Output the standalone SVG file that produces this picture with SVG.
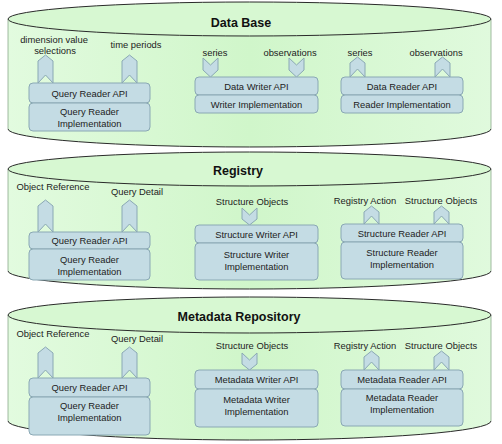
<svg xmlns="http://www.w3.org/2000/svg" width="502" height="444" viewBox="0 0 502 444">
<defs>
<linearGradient id="cylFill" x1="0" y1="0" x2="1" y2="0">
<stop offset="0" stop-color="#e2fbdf"/>
<stop offset="0.5" stop-color="#d0f6ca"/>
<stop offset="1" stop-color="#e0fadd"/>
</linearGradient>
<style>
.body{fill:url(#cylFill);stroke:none}
.side{fill:none;stroke:#8aa88a;stroke-width:0.8}
.edge{fill:none;stroke:#2a2a2a;stroke-width:1}
.top{fill:#d7f8d2;stroke:#2a2a2a;stroke-width:1}
.box{fill:#c4dce4;stroke:#8aa8b4;stroke-width:1}
.arr{fill:#c4dce4;stroke:#8aa8b4;stroke-width:1;stroke-linejoin:miter}
.title{font-family:"Liberation Sans",Arial,sans-serif;font-size:12.5px;font-weight:bold;fill:#111;text-anchor:middle}
.t{font-family:"Liberation Sans",Arial,sans-serif;font-size:9.4px;fill:#222;text-anchor:middle}
</style>
</defs>

<g id="database">
<path class="body" d="M8,19 V129 A241.5,18 0 0 0 491,129 V19 Z"/>
<path class="side" d="M8,19 V129 M491,19 V129"/>
<path class="edge" d="M8,129 A241.5,18 0 0 0 491,129"/>
<ellipse class="top" cx="249.5" cy="19" rx="241.5" ry="17"/>
<text class="title" x="241" y="27">Data Base</text>
</g>

<g id="registry">
<path class="body" d="M8,169 V271 A241.5,18 0 0 0 491,271 V169 Z"/>
<path class="side" d="M8,169 V271 M491,169 V271"/>
<path class="edge" d="M8,271 A241.5,18 0 0 0 491,271"/>
<ellipse class="top" cx="249.5" cy="169" rx="241.5" ry="17"/>
<text class="title" x="238" y="175">Registry</text>
</g>

<g id="metadata-repository">
<path class="body" d="M8,315 V421 A241.5,19 0 0 0 491,421 V315 Z"/>
<path class="side" d="M8,315 V421 M491,315 V421"/>
<path class="edge" d="M8,421 A241.5,19 0 0 0 491,421"/>
<ellipse class="top" cx="249.5" cy="315" rx="241.5" ry="18"/>
<text class="title" x="239" y="321">Metadata Repository</text>
</g>

<g id="connectors">
<path class="arr" d="M45.5,55 L53,61 V83 L45.5,75 L38,83 V61 Z"/>
<path class="arr" d="M129.5,55 L137,61 V83 L129.5,75 L122,83 V61 Z"/>
<path class="arr" d="M203,58 L210.5,65 L218,58 V70 L210.5,77 L203,70 Z"/>
<path class="arr" d="M289,58 L296.5,65 L304,58 V70 L296.5,77 L289,70 Z"/>
<path class="arr" d="M357.5,57 L365,63 V77 L357.5,69 L350,77 V63 Z"/>
<path class="arr" d="M442.5,57 L450,63 V77 L442.5,69 L435,77 V63 Z"/>
<path class="arr" d="M45.5,200 L53,206 V232 L45.5,224 L38,232 V206 Z"/>
<path class="arr" d="M129.5,200 L137,206 V232 L129.5,224 L122,232 V206 Z"/>
<path class="arr" d="M242,208 L249.5,215 L257,208 V219 L249.5,225 L242,219 Z"/>
<path class="arr" d="M371.5,206 L379,212 V224 L371.5,216 L364,224 V212 Z"/>
<path class="arr" d="M441.5,206 L449,212 V224 L441.5,216 L434,224 V212 Z"/>
<path class="arr" d="M45.5,347 L53,353 V378 L45.5,370 L38,378 V353 Z"/>
<path class="arr" d="M129.5,347 L137,353 V378 L129.5,370 L122,378 V353 Z"/>
<path class="arr" d="M242,353 L249.5,360 L257,353 V364 L249.5,370 L242,364 Z"/>
<path class="arr" d="M371.5,351 L379,357 V370 L371.5,362 L364,370 V357 Z"/>
<path class="arr" d="M441.5,351 L449,357 V370 L441.5,362 L434,370 V357 Z"/>
</g>

<g id="labels">
<text class="t" x="54" y="43">dimension value</text>
<text class="t" x="55" y="54">selections</text>
<text class="t" x="136" y="48">time periods</text>
<text class="t" x="215" y="56">series</text>
<text class="t" x="290" y="56">observations</text>
<text class="t" x="360" y="56">series</text>
<text class="t" x="436" y="56">observations</text>

<text class="t" x="53" y="190">Object Reference</text>
<text class="t" x="137" y="195">Query Detail</text>
<text class="t" x="252" y="205">Structure Objects</text>
<text class="t" x="365" y="204">Registry Action</text>
<text class="t" x="441" y="204">Structure Objects</text>

<text class="t" x="53" y="337">Object Reference</text>
<text class="t" x="137" y="342">Query Detail</text>
<text class="t" x="252" y="349">Structure Objects</text>
<text class="t" x="365" y="349">Registry Action</text>
<text class="t" x="441" y="349">Structure Objects</text>
</g>

<g id="db-query-reader">
<rect class="box" x="29" y="83" width="121" height="20" rx="4"/>
<rect class="box" x="29" y="103" width="121" height="28" rx="4"/>
<text class="t" x="89.5" y="96.5">Query Reader API</text>
<text class="t" x="89.5" y="115">Query Reader</text>
<text class="t" x="89.5" y="127">Implementation</text>
</g>
<g id="db-data-writer">
<rect class="box" x="195" y="77" width="123" height="18" rx="4"/>
<rect class="box" x="195" y="95" width="123" height="18" rx="4"/>
<text class="t" x="256.5" y="89.5">Data Writer API</text>
<text class="t" x="256.5" y="107.5">Writer Implementation</text>
</g>
<g id="db-data-reader">
<rect class="box" x="341" y="77" width="122" height="18" rx="4"/>
<rect class="box" x="341" y="95" width="122" height="18" rx="4"/>
<text class="t" x="402" y="89.5">Data Reader API</text>
<text class="t" x="402" y="107.5">Reader Implementation</text>
</g>

<g id="reg-query-reader">
<rect class="box" x="29" y="232" width="121" height="17" rx="4"/>
<rect class="box" x="29" y="249" width="121" height="31" rx="4"/>
<text class="t" x="89.5" y="244">Query Reader API</text>
<text class="t" x="89.5" y="263">Query Reader</text>
<text class="t" x="89.5" y="275">Implementation</text>
</g>
<g id="reg-structure-writer">
<rect class="box" x="195" y="225" width="123" height="18" rx="4"/>
<rect class="box" x="195" y="243" width="123" height="37" rx="4"/>
<text class="t" x="256.5" y="238">Structure Writer API</text>
<text class="t" x="256.5" y="258">Structure Writer</text>
<text class="t" x="256.5" y="270">Implementation</text>
</g>
<g id="reg-structure-reader">
<rect class="box" x="341" y="224" width="122" height="18" rx="4"/>
<rect class="box" x="341" y="242" width="122" height="37" rx="4"/>
<text class="t" x="402" y="237">Structure Reader API</text>
<text class="t" x="402" y="256">Structure Reader</text>
<text class="t" x="402" y="268">Implementation</text>
</g>

<g id="md-query-reader">
<rect class="box" x="29" y="378" width="121" height="19" rx="4"/>
<rect class="box" x="29" y="397" width="121" height="38" rx="4"/>
<text class="t" x="89.5" y="391">Query Reader API</text>
<text class="t" x="89.5" y="409">Query Reader</text>
<text class="t" x="89.5" y="421">Implementation</text>
</g>
<g id="md-metadata-writer">
<rect class="box" x="195" y="370" width="123" height="19" rx="4"/>
<rect class="box" x="195" y="389" width="123" height="38" rx="4"/>
<text class="t" x="256.5" y="383">Metadata Writer API</text>
<text class="t" x="256.5" y="403">Metadata Writer</text>
<text class="t" x="256.5" y="415">Implementation</text>
</g>
<g id="md-metadata-reader">
<rect class="box" x="341" y="370" width="122" height="19" rx="4"/>
<rect class="box" x="341" y="389" width="122" height="37" rx="4"/>
<text class="t" x="402" y="383">Metadata Reader API</text>
<text class="t" x="402" y="401">Metadata Reader</text>
<text class="t" x="402" y="413">Implementation</text>
</g>
</svg>
